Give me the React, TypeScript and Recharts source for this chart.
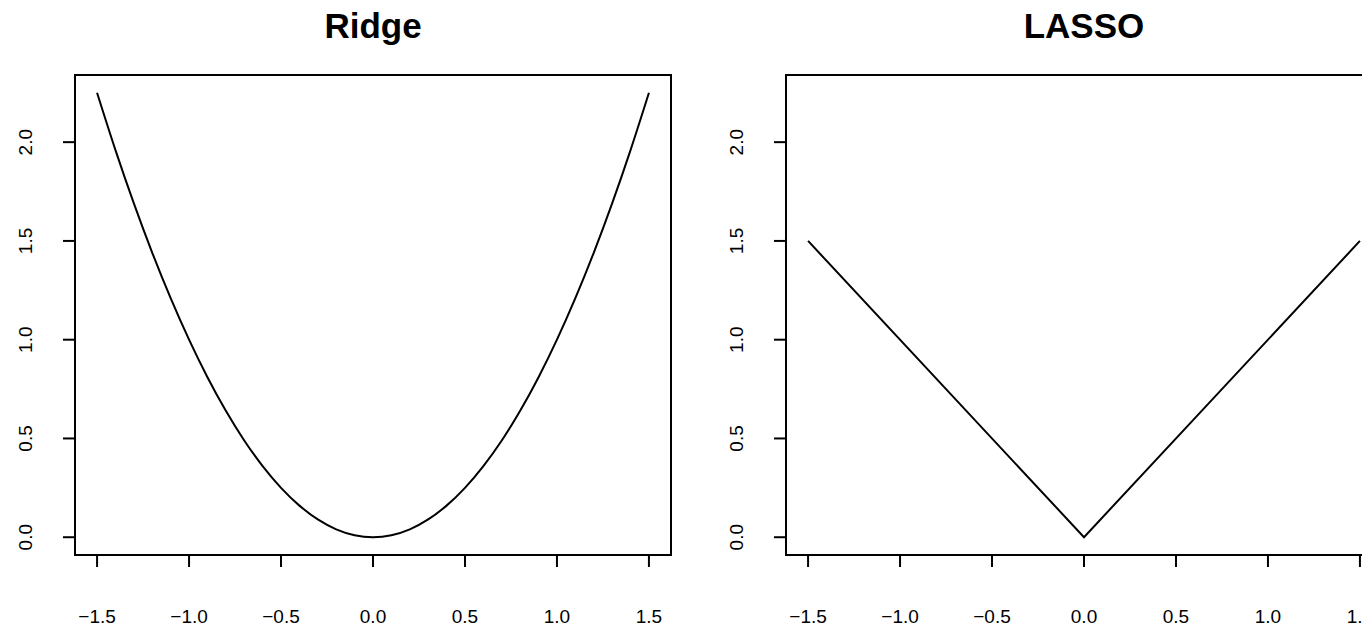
import React from "react";
import { LineChart, Line, XAxis, YAxis, ReferenceArea } from "recharts";

// values
const ridgeX = [
  -1.5, -1.4, -1.3, -1.2, -1.1, -1.0, -0.9, -0.8, -0.7, -0.6, -0.5, -0.4, -0.3, -0.2, -0.1, 0.0,
  0.1, 0.2, 0.3, 0.4, 0.5, 0.6, 0.7, 0.8, 0.9, 1.0, 1.1, 1.2, 1.3, 1.4, 1.5,
];
const ridgeY = [
  2.25, 1.96, 1.69, 1.44, 1.21, 1.0, 0.81, 0.64, 0.49, 0.36, 0.25, 0.16, 0.09, 0.04, 0.01, 0.0,
  0.01, 0.04, 0.09, 0.16, 0.25, 0.36, 0.49, 0.64, 0.81, 1.0, 1.21, 1.44, 1.69, 1.96, 2.25,
];
const lassoX = [-1.5, 0.0, 1.5];
const lassoY = [1.5, 0.0, 1.5];

const xTicks = [-1.5, -1.0, -0.5, 0.0, 0.5, 1.0, 1.5];
const yTicks = [0.0, 0.5, 1.0, 1.5, 2.0];
const xDomain = [-1.62, 1.62];
const yDomain = [-0.09, 2.34];

const FONT = '"Liberation Sans", Arial, Helvetica, sans-serif';
const TICK_SIZE = 19;

const fmt = (v: number) => (v < 0 ? "\u2212" + Math.abs(v).toFixed(1) : v.toFixed(1));

function YTick(props: any) {
  const { x, y, payload } = props;
  return (
    <text
      x={x}
      y={y}
      transform={`rotate(-90, ${x}, ${y})`}
      textAnchor="middle"
      fontSize={TICK_SIZE}
      fontFamily={FONT}
      fill="#000"
    >
      {fmt(payload.value)}
    </text>
  );
}

type PanelProps = {
  title: string;
  xs: number[];
  ys: number[];
  curve: "monotone" | "linear";
  left: number;
  width: number;
  axisWidth: number;
  rightMargin: number;
};

function Panel({ title, xs, ys, curve, left, width, axisWidth, rightMargin }: PanelProps) {
  const data = xs.map((x, i) => ({ x, y: ys[i] }));
  const plotW = width - axisWidth - rightMargin;
  return (
    <div style={{ position: "absolute", left, top: 0, width, height: 627 }}>
      <div
        style={{
          position: "absolute",
          left: axisWidth,
          width: plotW,
          top: 8,
          lineHeight: "35px",
          textAlign: "center",
          fontFamily: FONT,
          fontWeight: "bold",
          fontSize: 35,
          color: "#000",
        }}
      >
        {title}
      </div>
      <LineChart
        width={width}
        height={627}
        data={data}
        margin={{ top: 75, right: rightMargin, bottom: 0, left: 0 }}
      >
        <XAxis
          dataKey="x"
          type="number"
          domain={xDomain}
          ticks={xTicks}
          allowDataOverflow
          height={72}
          axisLine={false}
          tickLine={{ stroke: "#000", strokeWidth: 2 }}
          tickSize={12}
          tickMargin={43}
          tickFormatter={fmt}
          tick={{ fontSize: TICK_SIZE, fontFamily: FONT, fill: "#000" }}
          interval={0}
        />
        <YAxis
          type="number"
          domain={yDomain}
          ticks={yTicks}
          allowDataOverflow
          width={axisWidth}
          axisLine={false}
          tickLine={{ stroke: "#000", strokeWidth: 2 }}
          tickSize={12}
          tickMargin={31}
          tick={<YTick />}
          interval={0}
        />
        <ReferenceArea
          x1={xDomain[0]}
          x2={xDomain[1]}
          y1={yDomain[0]}
          y2={yDomain[1]}
          fill="none"
          stroke="#000"
          strokeWidth={2}
          ifOverflow="visible"
        />
        <Line
          dataKey="y"
          type={curve}
          stroke="#000"
          strokeWidth={2}
          dot={false}
          isAnimationActive={false}
        />
      </LineChart>
    </div>
  );
}

export default function App() {
  return (
    <div
      style={{
        position: "fixed",
        left: 0,
        top: 0,
        width: 1362,
        height: 627,
        overflow: "hidden",
        background: "#fff",
      }}
    >
      <Panel title="Ridge" xs={ridgeX} ys={ridgeY} curve="monotone" left={0} width={681} axisWidth={75} rightMargin={10} />
      <Panel title="LASSO" xs={lassoX} ys={lassoY} curve="linear" left={681} width={701} axisWidth={105} rightMargin={0} />
    </div>
  );
}
